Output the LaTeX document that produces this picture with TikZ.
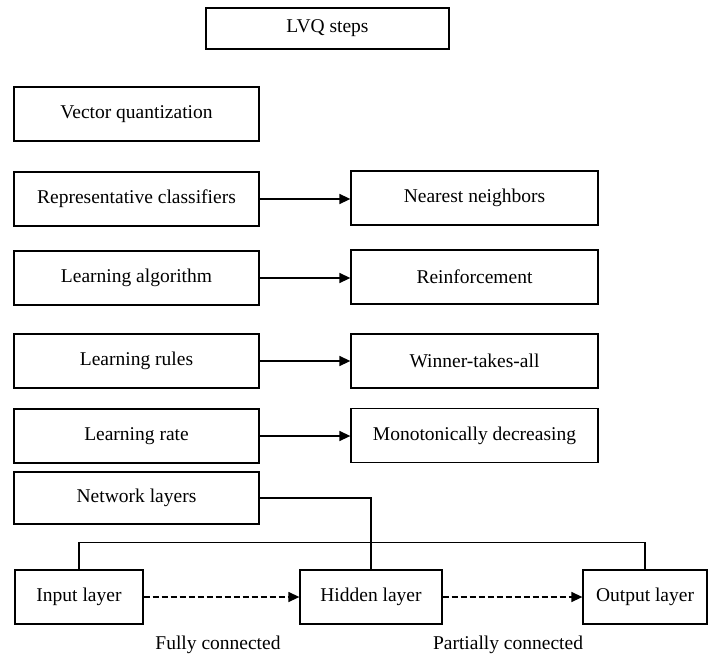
\documentclass[tikz,border=0pt]{standalone}
\usepackage{fontspec}
\setmainfont{Liberation Serif}
\usetikzlibrary{arrows.meta}
\begin{document}
\begin{tikzpicture}[x=1pt,y=-1pt,
  box/.style={draw,line width=1.3pt,inner sep=0pt,font=\fontsize{19.5}{23}\selectfont},
  lbox/.style={box,minimum width=245pt,minimum height=54pt},
  rbox/.style={box,minimum width=247pt,minimum height=54pt},
  arr/.style={line width=1.4pt,-{Triangle[length=11pt,width=10pt]}},
  darr/.style={arr,dash pattern=on 6pt off 3pt},
  link/.style={line width=1.3pt},
  lbl/.style={font=\fontsize{19.5}{23}\selectfont}]
\useasboundingbox (0,0) rectangle (709,658);
\node[box,minimum width=243pt,minimum height=41pt] (lvq) at (327.5,28.5) {LVQ steps};
\node[lbox] (vq) at (136.5,114) {Vector quantization};
\node[lbox] (rep) at (136.5,199) {Representative classifiers};
\node[lbox] (la) at (136.5,278) {Learning algorithm};
\node[lbox] (lru) at (136.5,361) {Learning rules};
\node[lbox] (lra) at (136.5,436) {Learning rate};
\node[lbox,minimum height=52pt] (nl) at (136.5,498) {Network layers};
\node[rbox] (nn) at (474.5,198) {Nearest neighbors};
\node[rbox] (re) at (474.5,277) {Reinforcement};
\node[rbox] (wi) at (474.5,361) {Winner-takes-all};
\node[rbox] (mo) at (474.5,435.5) {Monotonically decreasing};
\node[box,minimum width=128pt,minimum height=54pt] (in) at (79,597) {Input layer};
\node[box,minimum width=142pt,minimum height=54pt] (hid) at (371,597) {Hidden layer};
\node[box,minimum width=124pt,minimum height=54pt] (out) at (645,597) {Output layer};
\node[lbl] (fc) at (218,645) {Fully connected};
\node[lbl] (pc) at (508,645) {Partially connected};
\draw[arr] (rep.east) -- (rep.east -| nn.west);
\draw[arr] (la.east) -- (la.east -| re.west);
\draw[arr] (lru.east) -- (lru.east -| wi.west);
\draw[arr] (lra.east) -- (lra.east -| mo.west);
\draw[link] (nl.east) -| (hid.north);
\draw[link] (in.north) -- ++(0,-27) -| (out.north);
\draw[darr] (in.east) -- (hid.west);
\draw[darr] (hid.east) -- (out.west);
\end{tikzpicture}
\end{document}
